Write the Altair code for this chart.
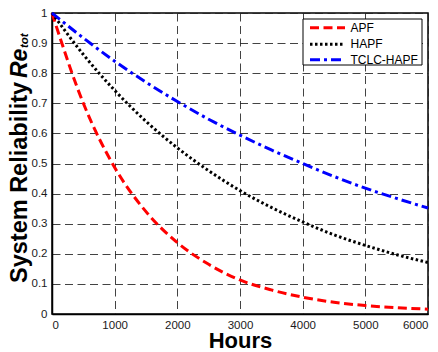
import altair as alt
import pandas as pd

hours = [0, 500, 1000, 1500, 2000, 2500, 3000, 3500, 4000, 4500, 5000, 5500, 6000]
apf = [1.0, 0.70, 0.487, 0.34, 0.237, 0.165, 0.113, 0.08, 0.056, 0.039, 0.028, 0.021, 0.016]
hapf = [1.0, 0.862, 0.743, 0.64, 0.552, 0.476, 0.41, 0.354, 0.306, 0.263, 0.228, 0.197, 0.171]
tclc = [1.0, 0.917, 0.84, 0.77, 0.706, 0.647, 0.594, 0.545, 0.5, 0.457, 0.418, 0.384, 0.352]
series_names = ["APF", "HAPF", "TCLC-HAPF"]
series_colors = ["#ff0000", "#000000", "#0000ff"]
series_dash = [[9, 4.5], [2.5, 2.5], [10, 4, 3, 4]]
x_ticks = [0, 1000, 2000, 3000, 4000, 5000, 6000]
y_ticks = [0, 0.1, 0.2, 0.3, 0.4, 0.5, 0.6, 0.7, 0.8, 0.9, 1.0]

rows = []
for name, vals in zip(series_names, [apf, hapf, tclc]):
    for h, v in zip(hours, vals):
        rows.append({"Hours": h, "R": v, "series": name})
df = pd.DataFrame(rows)

FONT = "Liberation Sans"

lines = alt.Chart(df).mark_line(strokeWidth=3, interpolate="monotone", strokeCap="butt").encode(
    x=alt.X("Hours:Q", scale=alt.Scale(domain=[0, 6000], nice=False),
            axis=alt.Axis(values=x_ticks, format="d", title="Hours", ticks=False, grid=True,
                          labelPadding=5, titlePadding=0, titleFontSize=22,
                          titleFontWeight="bold", titleColor="#000")),
    y=alt.Y("R:Q", scale=alt.Scale(domain=[0, 1], nice=False),
            axis=alt.Axis(values=y_ticks, format="~g", title=None, ticks=False, grid=True,
                          labelPadding=5)),
    color=alt.Color("series:N", scale=alt.Scale(domain=series_names, range=series_colors),
                    legend=None),
    strokeDash=alt.StrokeDash("series:N", scale=alt.Scale(domain=series_names, range=series_dash),
                              legend=None),
)

one = pd.DataFrame({"t": [0]})
base_t = alt.Chart(one)
t1 = base_t.mark_text(angle=270, align="left", baseline="alphabetic", font=FONT,
                      fontWeight="bold", fontSize=23.5, color="#000").encode(
    x=alt.value(-25), y=alt.value(270), text=alt.value("System Reliability"))
t2 = base_t.mark_text(angle=270, align="left", baseline="alphabetic", font=FONT,
                      fontWeight="bold", fontStyle="italic", fontSize=23, color="#000").encode(
    x=alt.value(-25), y=alt.value(65), text=alt.value("Re"))
t3 = base_t.mark_text(angle=270, align="left", baseline="alphabetic", font=FONT,
                      fontWeight="bold", fontStyle="italic", fontSize=11.5, color="#000").encode(
    x=alt.value(-24), y=alt.value(35), text=alt.value("tot"))

# legend (box, sample lines, labels)
legend_layers = [
    base_t.mark_rect(fill="#fff", stroke="#000", strokeWidth=1).encode(
        x=alt.value(251), x2=alt.value(370), y=alt.value(6), y2=alt.value(52))
]
row_y = [14.7, 31.3, 46.7]
for name, col, dash, yy in zip(series_names, series_colors, series_dash, row_y):
    legend_layers.append(
        base_t.mark_rule(color=col, strokeWidth=3, strokeDash=dash, strokeCap="butt").encode(
            x=alt.value(258), x2=alt.value(293), y=alt.value(yy)))
    legend_layers.append(
        base_t.mark_text(align="left", baseline="middle", font=FONT, fontSize=12,
                         color="#000").encode(
            x=alt.value(298.5), y=alt.value(yy), text=alt.value(name)))

chart = alt.layer(lines, t1, t2, t3, *legend_layers).properties(
    width=376, height=301,
    background="#fff",
    autosize=alt.AutoSizeParams(type="none"),
    padding={"left": 44, "top": 5, "right": 2, "bottom": 36},
).configure_view(stroke="#000", strokeWidth=1.5).configure_axis(
    gridColor="#222", gridDash=[8, 4.5], gridWidth=1, gridOpacity=0.85,
    domainColor="#000", domainWidth=1.5,
    labelFont=FONT, labelFontSize=11.5, labelColor="#1a1a1a",
    titleFont=FONT,
)

chart.save("out.html", embed_options={"renderer": "svg", "actions": False})
